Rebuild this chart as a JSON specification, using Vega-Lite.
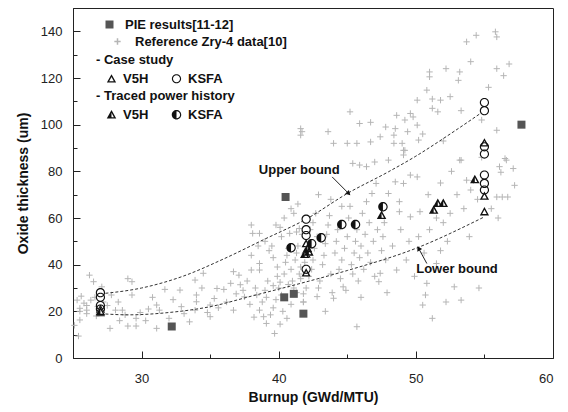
{
  "$schema": "https://vega.github.io/schema/vega-lite/v6.json",
  "width": 480,
  "height": 350,
  "autosize": {"type": "none"},
  "padding": {"left": 73, "top": 8, "right": 15, "bottom": 54},
  "config": {
    "font": "Liberation Sans",
    "view": {"stroke": "#222", "strokeWidth": 1},
    "axis": {"grid": false, "domainColor": "#222", "tickColor": "#222", "labelColor": "#222", "labelFontSize": 13, "titleFontSize": 14, "titleFontWeight": "bold", "titleColor": "#111", "labelFont": "Liberation Sans", "titleFont": "Liberation Sans"},
    "legend": {"labelFont": "Liberation Sans", "labelFontSize": 13, "labelFontWeight": "bold", "labelColor": "#111", "titleFont": "Liberation Sans", "titleFontSize": 13, "titleFontWeight": "bold", "titleColor": "#111", "padding": 0, "orient": "none", "titleLimit": 400, "labelLimit": 400}
  },
  "datasets": {
    "ref": [
      {"b":25.3,"v":24.8},{"b":25.5,"v":21.3},{"b":25.5,"v":20},{"b":26,"v":20.5},{"b":26,"v":19},{"b":25.1,"v":14},{"b":25.4,"v":9.4},{"b":25.5,"v":16.3},{"b":26.2,"v":35.5},{"b":26.5,"v":32.7},{"b":26.3,"v":24.8},{"b":26.8,"v":22},{"b":27.2,"v":24},{"b":27.5,"v":22.5},{"b":27.7,"v":12.7},{"b":28.1,"v":20.5},{"b":28.6,"v":20.5},{"b":29,"v":34},{"b":29.3,"v":32.7},{"b":29.3,"v":27},{"b":29,"v":13.7},{"b":29.6,"v":13.7},{"b":29.6,"v":17},{"b":26.6,"v":26},{"b":27.8,"v":27},{"b":28.3,"v":24},{"b":26,"v":22.5},{"b":25.8,"v":23.5},{"b":26.7,"v":18},{"b":28.8,"v":18.5},{"b":25.6,"v":26.5},{"b":27.1,"v":30.5},{"b":29.9,"v":19.5},{"b":30.3,"v":16},{"b":28.4,"v":16},
      {"b":31.1,"v":22.7},{"b":31.3,"v":20.5},{"b":31.1,"v":12.7},{"b":31.7,"v":29.4},{"b":32.8,"v":29.1},{"b":32.9,"v":22},{"b":33.9,"v":33.4},{"b":34,"v":27},{"b":34,"v":24.1},{"b":33.9,"v":20.5},{"b":34.5,"v":36.3},{"b":35,"v":22.7},{"b":35,"v":17.7},{"b":35.5,"v":29.8},{"b":36,"v":29.4},{"b":35.6,"v":21.5},{"b":36.7,"v":20.5},{"b":36.7,"v":37},{"b":37.1,"v":35.5},{"b":37.2,"v":31.4},{"b":37.4,"v":29},{"b":37.5,"v":26.2},{"b":37.7,"v":33},{"b":30.5,"v":21},{"b":32.3,"v":25},{"b":33.1,"v":19},{"b":34.4,"v":30},{"b":35.3,"v":25.5},{"b":36.2,"v":24},{"b":36.5,"v":32},{"b":30.8,"v":26},{"b":32,"v":17},{"b":34.8,"v":19.5},{"b":36.9,"v":27.5},{"b":33.5,"v":15.5},
      {"b":38,"v":37.7},{"b":38,"v":57},{"b":38.1,"v":53.4},{"b":38.6,"v":53.4},{"b":38,"v":44},{"b":38.6,"v":40.5},{"b":38.6,"v":37.7},{"b":38.6,"v":20.5},{"b":38.9,"v":17.7},{"b":39.1,"v":14.8},{"b":39.7,"v":10.5},{"b":39.6,"v":21.5},{"b":39.6,"v":43},{"b":39.9,"v":39},{"b":39.9,"v":35},{"b":40.1,"v":32.5},{"b":40,"v":30},{"b":40.2,"v":52},{"b":40.8,"v":53.4},{"b":41.3,"v":54},{"b":41.5,"v":55.5},{"b":41.7,"v":53},{"b":38.3,"v":30},{"b":38.4,"v":27},{"b":38.8,"v":24},{"b":39,"v":29},{"b":39.2,"v":33},{"b":39.3,"v":46},{"b":39.5,"v":48},{"b":39.1,"v":26},{"b":39.4,"v":18.5},{"b":39.8,"v":25},{"b":40.2,"v":27},{"b":40.3,"v":20},{"b":40.4,"v":36},{"b":40.5,"v":41},{"b":40.6,"v":44},{"b":40.7,"v":47},{"b":40.9,"v":38},{"b":41,"v":33},{"b":41.1,"v":30},{"b":41.2,"v":42},{"b":41.3,"v":45},{"b":41.4,"v":48},{"b":41.5,"v":36},{"b":41.6,"v":39},{"b":41.8,"v":24},{"b":40.6,"v":17},{"b":40.9,"v":23},{"b":41.1,"v":62},{"b":40.4,"v":60},{"b":40.9,"v":64},{"b":41.4,"v":66},{"b":41.7,"v":97},{"b":41.6,"v":98.3},{"b":41.6,"v":95.5},{"b":39.8,"v":57},{"b":40.1,"v":56},{"b":38.5,"v":48},{"b":39,"v":50},{"b":37.9,"v":23},{"b":38.2,"v":17.5},{"b":40.1,"v":14.5},{"b":41.3,"v":28},{"b":41.6,"v":34},{"b":41.9,"v":41},{"b":42,"v":30},{"b":41.8,"v":27.5},{"b":40.7,"v":31.5},{"b":39.6,"v":31},
      {"b":42.2,"v":35},{"b":42.4,"v":38},{"b":42.5,"v":42},{"b":42.6,"v":47},{"b":42.8,"v":52},{"b":42.3,"v":55},{"b":42.5,"v":58},{"b":42.7,"v":62},{"b":42.9,"v":30},{"b":43,"v":33},{"b":43.2,"v":40},{"b":43.3,"v":44},{"b":43.4,"v":49},{"b":43.5,"v":53},{"b":43.6,"v":57},{"b":43.7,"v":61},{"b":43.8,"v":36},{"b":43.9,"v":28},{"b":44,"v":25.6},{"b":44.7,"v":30.5},{"b":44.9,"v":29},{"b":42.8,"v":26.3},{"b":41.8,"v":24},{"b":44.1,"v":45},{"b":44.2,"v":50},{"b":44.3,"v":55},{"b":44.4,"v":38},{"b":44.5,"v":34},{"b":44.6,"v":42},{"b":44.8,"v":47},{"b":45,"v":52},{"b":45.1,"v":60},{"b":45.2,"v":65},{"b":45.3,"v":40},{"b":45.4,"v":36},{"b":45.5,"v":45},{"b":45.6,"v":50},{"b":45.7,"v":55},{"b":45.8,"v":33},{"b":45.9,"v":43},{"b":46,"v":48},{"b":46.1,"v":62},{"b":46.2,"v":38},{"b":46.3,"v":53},{"b":46.4,"v":67},{"b":46.5,"v":45},{"b":46.6,"v":58},{"b":46.7,"v":41},{"b":46.8,"v":70.5},{"b":46.9,"v":50},{"b":47,"v":35},{"b":47.1,"v":74.8},{"b":47.2,"v":55},{"b":47.3,"v":32.7},{"b":47.4,"v":36.3},{"b":47.5,"v":46},{"b":47.6,"v":52},{"b":47.7,"v":58},{"b":47.8,"v":42},{"b":48,"v":70.5},{"b":48,"v":84.8},{"b":47,"v":84},{"b":46.4,"v":82},{"b":45.9,"v":82.7},{"b":45.4,"v":83.4},{"b":48.5,"v":75.5},{"b":48.6,"v":37.7},{"b":48.8,"v":67},{"b":48.8,"v":62.7},{"b":49.1,"v":74.8},{"b":49.3,"v":42},{"b":49.6,"v":60.5},{"b":49.6,"v":78.4},{"b":50.1,"v":77.6},{"b":50.3,"v":62.7},{"b":49.1,"v":87},{"b":49.2,"v":89},{"b":45.7,"v":13.4},{"b":43.4,"v":20},{"b":46,"v":26},{"b":47.9,"v":28},{"b":48.3,"v":48},{"b":48.9,"v":55},{"b":49.5,"v":50},{"b":44.6,"v":65},{"b":43.8,"v":68},{"b":42.9,"v":70},
      {"b":53.7,"v":135.5},{"b":54.4,"v":138.3},{"b":55.8,"v":139.8},{"b":55.9,"v":137.6},{"b":55.9,"v":124},{"b":56.4,"v":121},{"b":55.3,"v":116},{"b":51,"v":122.6},{"b":51,"v":120.5},{"b":52.2,"v":124},{"b":53.2,"v":122.6},{"b":53.1,"v":119},{"b":50.8,"v":114.8},{"b":50.1,"v":110.5},{"b":51.2,"v":111},{"b":51.8,"v":110.5},{"b":49.6,"v":104.8},{"b":49.8,"v":103.3},{"b":48.6,"v":104},{"b":49.2,"v":102},{"b":51.2,"v":107},{"b":51.6,"v":105.5},{"b":50.1,"v":99.8},{"b":48.5,"v":98.3},{"b":49.4,"v":97},{"b":50.2,"v":93.4},{"b":49,"v":92},{"b":48.4,"v":95.5},{"b":53.3,"v":106},{"b":55.9,"v":97.6},{"b":45.2,"v":105.5},{"b":45.9,"v":100.5},{"b":46.7,"v":101},{"b":43.6,"v":97},{"b":44,"v":92},{"b":45,"v":92},{"b":45.7,"v":92},{"b":46.7,"v":92.6},{"b":47.4,"v":94.8},{"b":48.4,"v":92},{"b":49.1,"v":89},{"b":53.3,"v":84.8},{"b":56.5,"v":85.5},{"b":50.5,"v":96},{"b":47.8,"v":99},{"b":52.5,"v":112},{"b":54,"v":127},{"b":56.8,"v":126},{"b":54.8,"v":102},{"b":52,"v":93},
      {"b":53.2,"v":84.8},{"b":53.7,"v":76.2},{"b":54.2,"v":76},{"b":56.1,"v":82},{"b":56.2,"v":79.6},{"b":56.6,"v":84.8},{"b":57.1,"v":81.2},{"b":55.9,"v":69},{"b":56.3,"v":69},{"b":56.7,"v":69},{"b":50.8,"v":32},{"b":51.5,"v":40.5},{"b":50.7,"v":27},{"b":50.5,"v":22.7},{"b":52.2,"v":24},{"b":52.8,"v":30.5},{"b":53.3,"v":24.8},{"b":51,"v":55},{"b":51.5,"v":60},{"b":52,"v":58},{"b":52.5,"v":62},{"b":53,"v":70},{"b":54,"v":72},{"b":54.5,"v":68},{"b":53.5,"v":64},{"b":52.3,"v":50},{"b":51.8,"v":46},{"b":50.6,"v":45},{"b":50.9,"v":70},{"b":51.8,"v":75},{"b":52.6,"v":80},{"b":54.8,"v":86},{"b":57.2,"v":74},{"b":56,"v":60},{"b":55.5,"v":64},{"b":53.9,"v":52},{"b":49.9,"v":35},{"b":51.2,"v":17},{"b":54.6,"v":30},{"b":50.2,"v":52}
    ],
    "pie": [
      {"b":32.2,"v":13.5},{"b":40.4,"v":26},{"b":41.1,"v":27.5},{"b":41.8,"v":19},{"b":40.5,"v":69},{"b":57.7,"v":100}
    ],
    "bounds": [
      {"bound":"upper","b":27,"v":27.5},{"bound":"upper","b":30,"v":30},{"bound":"upper","b":33,"v":35},{"bound":"upper","b":36,"v":42.5},{"bound":"upper","b":39,"v":51},{"bound":"upper","b":42,"v":59.5},{"bound":"upper","b":45,"v":70.5},{"bound":"upper","b":48,"v":79.8},{"bound":"upper","b":50,"v":86.5},{"bound":"upper","b":52.5,"v":96},{"bound":"upper","b":55,"v":106},
      {"bound":"lower","b":27,"v":19},{"bound":"lower","b":29,"v":18.5},{"bound":"lower","b":32,"v":19.5},{"bound":"lower","b":35,"v":22},{"bound":"lower","b":38,"v":26.5},{"bound":"lower","b":41.6,"v":32},{"bound":"lower","b":45,"v":37.5},{"bound":"lower","b":50,"v":47},{"bound":"lower","b":55,"v":60.5}
    ],
    "case": [
      {"site":"V5H","b":27,"v":19.5},{"site":"V5H","b":27,"v":21},
      {"site":"V5H","b":42,"v":49},{"site":"V5H","b":42,"v":46},{"site":"V5H","b":42,"v":44.5},{"site":"V5H","b":42,"v":36.5},
      {"site":"V5H","b":55,"v":92.2},{"site":"V5H","b":55,"v":69.4},{"site":"V5H","b":55,"v":62.7},
      {"site":"KSFA","b":27,"v":28},{"site":"KSFA","b":27,"v":26},{"site":"KSFA","b":27,"v":22.5},{"site":"KSFA","b":27,"v":21},
      {"site":"KSFA","b":42,"v":59.5},{"site":"KSFA","b":42,"v":55},{"site":"KSFA","b":42,"v":52.5},{"site":"KSFA","b":42,"v":38},
      {"site":"KSFA","b":55,"v":109.5},{"site":"KSFA","b":55,"v":106},{"site":"KSFA","b":55,"v":90.5},{"site":"KSFA","b":55,"v":87.4},{"site":"KSFA","b":55,"v":78.4},{"site":"KSFA","b":55,"v":74.8},{"site":"KSFA","b":55,"v":72}
    ],
    "traced": [
      {"site":"V5H","b":27,"v":20},{"site":"V5H","b":42.1,"v":47},{"site":"V5H","b":42.2,"v":45.5},{"site":"V5H","b":41.9,"v":44.5},{"site":"V5H","b":47.5,"v":61.2},{"site":"V5H","b":51.3,"v":63.4},{"site":"V5H","b":51.6,"v":66.3},{"site":"V5H","b":52,"v":66.3},{"site":"V5H","b":54.3,"v":76.5},
      {"site":"KSFA","b":40.9,"v":47.2},{"site":"KSFA","b":42.4,"v":49},{"site":"KSFA","b":43.1,"v":51.5},{"site":"KSFA","b":44.6,"v":57.2},{"site":"KSFA","b":45.6,"v":57.2},{"site":"KSFA","b":47.6,"v":64.8}
    ],
    "notes": [
      {"label":"Upper bound","b":41.5,"v":80.5},{"label":"Lower bound","b":53,"v":38}
    ],
    "arrows": [
      {"name":"upper","b":43.9,"v":77.6,"b2":45.1,"v2":70.5},{"name":"lower","b":50.8,"v":40.5,"b2":50.2,"v2":47}
    ]
  },
  "encoding": {
    "x": {"field": "b", "type": "quantitative", "scale": {"domain": [25, 60], "nice": false},
      "axis": {"title": "Burnup (GWd/MTU)", "values": [30, 35, 40, 45, 50, 55, 60],
        "labelExpr": "datum.value % 10 === 0 ? datum.label : ''",
        "tickSize": {"condition": {"test": "datum.value % 10 === 0", "value": -7}, "value": -4},
        "labelPadding": 21, "titlePadding": 5}},
    "y": {"field": "v", "type": "quantitative", "scale": {"domain": [0, 150], "nice": false},
      "axis": {"title": "Oxide thickness (um)", "values": [0, 10, 20, 30, 40, 50, 60, 70, 80, 90, 100, 110, 120, 130, 140, 150],
        "labelExpr": "datum.value % 20 === 0 && datum.value < 150 ? datum.label : ''",
        "tickSize": {"condition": {"test": "datum.value % 20 === 0", "value": -7}, "value": -4},
        "labelPadding": 18, "titlePadding": 10}}
  },
  "layer": [
    {
      "data": {"name": "ref"},
      "mark": {"type": "point", "filled": false, "stroke": "#b5b5b5", "strokeWidth": 1, "size": 40, "opacity": 1},
      "encoding": {
        "shape": {"datum": "Reference Zry-4 data[10]", "scale": {"range": ["M-1,0H1M0,-1V1"]},
          "legend": {"title": null, "legendX": 38, "legendY": 27, "symbolSize": 40, "symbolStrokeColor": "#b5b5b5", "symbolFillColor": "transparent", "labelOffset": 11}}
      }
    },
    {
      "data": {"name": "bounds"},
      "mark": {"type": "line", "strokeDash": [3, 2], "strokeWidth": 1, "color": "#333", "interpolate": "monotone"},
      "encoding": {"detail": {"field": "bound"}}
    },
    {
      "data": {"name": "pie"},
      "mark": {"type": "point", "filled": true, "color": "#555", "size": 64, "opacity": 1},
      "encoding": {
        "shape": {"datum": "PIE results[11-12]", "scale": {"range": ["square"]},
          "legend": {"title": null, "legendX": 30, "legendY": 10, "symbolSize": 64, "symbolFillColor": "#555", "symbolStrokeColor": "#555", "labelOffset": 9}}
      }
    },
    {
      "data": {"name": "case"},
      "mark": {"type": "point", "filled": true, "color": "white", "strokeWidth": 0, "size": 85, "opacity": 1},
      "encoding": {
        "shape": {"field": "site", "type": "nominal", "scale": {"domain": ["V5H", "KSFA"], "range": ["M0,-1L-1,0.8L1,0.8Z", "M0,-1A1,1,0,0,0,0,1A1,1,0,0,0,0,-1Z"]}, "legend": null}
      }
    },
    {
      "data": {"name": "case"},
      "mark": {"type": "point", "filled": true, "color": "#111", "strokeWidth": 0, "size": 85, "opacity": 1},
      "encoding": {
        "shape": {"field": "site", "type": "nominal", "scale": {"domain": ["V5H", "KSFA"], "range": ["M0,-1L-1,0.8L1,0.8ZM0,-0.4L0.5,0.52L-0.5,0.52Z", "M0,-1A1,1,0,0,0,0,1A1,1,0,0,0,0,-1ZM0,-0.76A0.76,0.76,0,0,1,0,0.76A0.76,0.76,0,0,1,0,-0.76Z"]},
          "legend": {"title": "- Case study", "legendX": 23, "legendY": 46, "columns": 2, "columnPadding": 12, "symbolOffset": 9, "labelOffset": 5, "titlePadding": 5, "symbolSize": 85, "symbolFillColor": "#111", "symbolStrokeWidth": 0}}
      }
    },
    {
      "data": {"name": "traced"},
      "mark": {"type": "point", "filled": true, "color": "white", "strokeWidth": 0, "size": 90, "opacity": 1},
      "encoding": {
        "shape": {"field": "site", "type": "nominal", "scale": {"domain": ["V5H", "KSFA"], "range": ["M0,-1L-1,0.8L1,0.8Z", "M0,-1A1,1,0,0,0,0,1A1,1,0,0,0,0,-1Z"]}, "legend": null}
      }
    },
    {
      "data": {"name": "traced"},
      "mark": {"type": "point", "filled": true, "color": "#111", "strokeWidth": 0, "size": 90, "opacity": 1},
      "encoding": {
        "shape": {"field": "site", "type": "nominal", "scale": {"domain": ["V5H", "KSFA"], "range": ["M0,-1L-1,0.8L1,0.8ZM0,-0.4L0.5,0.52L0,0.52Z", "M0,-1A1,1,0,0,0,0,1A1,1,0,0,0,0,-1ZM0,-0.76A0.76,0.76,0,0,1,0,0.76Z"]},
          "legend": {"title": "- Traced power history", "legendX": 23, "legendY": 82, "columns": 2, "columnPadding": 12, "symbolOffset": 9, "labelOffset": 5, "titlePadding": 5, "symbolSize": 90, "symbolFillColor": "#111", "symbolStrokeWidth": 0}}
      }
    },
    {
      "data": {"name": "arrows"},
      "mark": {"type": "rule", "color": "#222", "strokeWidth": 1},
      "encoding": {"x2": {"field": "b2"}, "y2": {"field": "v2"}}
    },
    {
      "data": {"name": "arrows"},
      "transform": [{"filter": "datum.name === 'upper'"}],
      "mark": {"type": "point", "shape": "triangle-up", "filled": true, "color": "#111", "size": 30, "angle": 135, "opacity": 1},
      "encoding": {"x": {"field": "b2", "type": "quantitative"}, "y": {"field": "v2", "type": "quantitative"}}
    },
    {
      "data": {"name": "arrows"},
      "transform": [{"filter": "datum.name === 'lower'"}],
      "mark": {"type": "point", "shape": "triangle-up", "filled": true, "color": "#111", "size": 30, "angle": 331, "opacity": 1},
      "encoding": {"x": {"field": "b2", "type": "quantitative"}, "y": {"field": "v2", "type": "quantitative"}}
    },
    {
      "data": {"name": "notes"},
      "mark": {"type": "text", "font": "Liberation Sans", "fontSize": 13, "fontWeight": "bold", "color": "#111", "align": "center", "baseline": "middle"},
      "encoding": {"text": {"field": "label"}}
    }
  ],
  "resolve": {"scale": {"shape": "independent"}}
}
